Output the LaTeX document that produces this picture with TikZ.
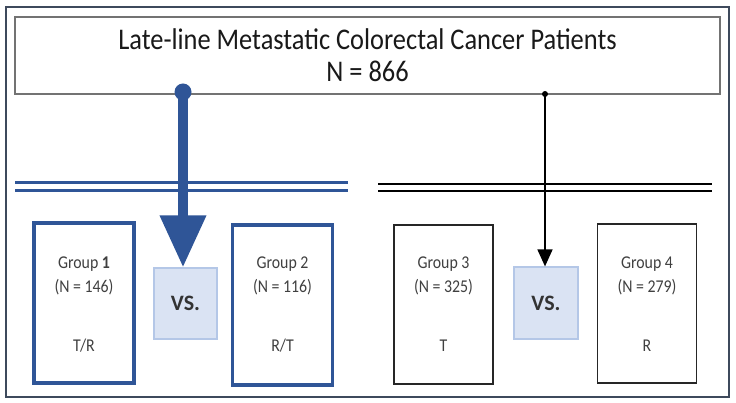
\documentclass[tikz,border=0pt]{standalone}
\usepackage{fontspec}
\usepackage{graphicx}
\setmainfont{Carlito}
\usetikzlibrary{arrows.meta}
\definecolor{dblue}{HTML}{2F5597}
\definecolor{vsfill}{HTML}{DAE3F3}
\definecolor{vsedge}{HTML}{B4C7E7}
\definecolor{frame}{HTML}{3E4A5C}
\definecolor{tgrey}{HTML}{404040}
\newcommand{\narrow}[1]{\scalebox{0.88}[1]{#1}}
\tikzset{
  bluegroup/.style={draw=dblue, line width=3.5pt, minimum width=100pt, minimum height=160pt, inner sep=0pt},
  blackgroup/.style={draw=black!85, line width=1.3pt, minimum width=99pt, minimum height=159pt, inner sep=0pt},
  vsbox/.style={draw=vsedge, fill=vsfill, line width=1.2pt, minimum width=63pt, minimum height=71pt, inner sep=0pt,
    font=\fontsize{22}{24}\selectfont\bfseries, text=black!80},
  gtext/.style={font=\fontsize{18}{19}\selectfont, text=tgrey, inner sep=0pt},
}
\begin{document}
\begin{tikzpicture}[x=1pt,y=-1pt]
\useasboundingbox (0,0) rectangle (736,403);
\fill[white] (0,0) rectangle (736,403);
% outer frame
\draw[frame, line width=2pt] (6,7) rectangle (729,397);
% title
\node[draw=black!55, line width=1.4pt, minimum width=705pt, minimum height=77pt, inner sep=0pt,
  align=center, font=\fontsize{30}{32}\selectfont, text=black!90] (title) at (367.5,55.5)
  {\narrow{Late-line Metastatic Colorectal Cancer Patients}\\\narrow{N = 866}};
% groups
\node[bluegroup] (g1) at (84,303) {};
\node[bluegroup] (g2) at (282.5,305) {};
\node[blackgroup] (g3) at (443.5,304.5) {};
\node[blackgroup] (g4) at (647,303.5) {};
\node[vsbox] (vs1) at (185.5,303.5) {VS.};
\node[vsbox, minimum width=64pt, minimum height=72pt] (vs2) at (546,303) {VS.};
% group texts
\node[gtext] (g1a) at (84,264) {\narrow{Group \textbf{1}}};
\node[gtext] (g1b) at (84,287) {\narrow{(N = 146)}};
\node[gtext] (g1c) at (84,346) {\narrow{T/R}};
\node[gtext] (g2a) at (282.5,264) {\narrow{Group 2}};
\node[gtext] (g2b) at (282.5,287) {\narrow{(N = 116)}};
\node[gtext] (g2c) at (282.5,346) {\narrow{R/T}};
\node[gtext] (g3a) at (443.5,264) {\narrow{Group 3}};
\node[gtext] (g3b) at (443.5,287) {\narrow{(N = 325)}};
\node[gtext] (g3c) at (443.5,346) {\narrow{T}};
\node[gtext] (g4a) at (647,264) {\narrow{Group 4}};
\node[gtext] (g4b) at (647,287) {\narrow{(N = 279)}};
\node[gtext] (g4c) at (647,346) {\narrow{R}};
% dots on title box
\node[circle, fill=dblue, minimum width=17pt, inner sep=0pt] (dot1) at (183,92) {};
\node[circle, fill=black, minimum width=6pt, inner sep=0pt] (dot2) at (545,94) {};
% connectors
\draw[dblue, line width=10pt, -{Triangle[width=44pt,length=52pt]}] (dot1.center) -- (dot1.center |- vs1.north);
\draw[black, line width=1.6pt, -{Triangle[width=15pt,length=17pt]}] (dot2.center) -- (dot2.center |- vs2.north);
% double lines
\draw[dblue, line width=3pt] (15,183) -- (348,183) (15,191) -- (348,191);
\draw[black, line width=2.6pt] (378,184) -- (712,184) (378,191) -- (712,191);
\end{tikzpicture}
\end{document}
